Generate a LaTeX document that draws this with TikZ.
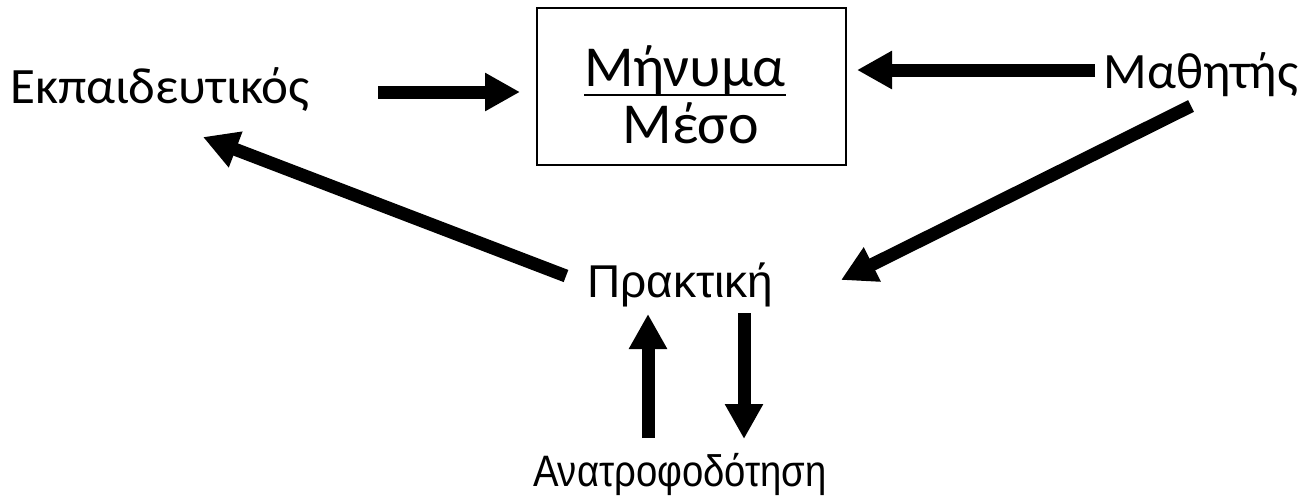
\documentclass[tikz,border=0pt]{standalone}
\usepackage{fontspec}
\setmainfont{Liberation Sans}
\newfontfamily\calib{Carlito}
\usetikzlibrary{arrows.meta}
\tikzset{
  bigarrow/.style={line width=13pt,-{Triangle[length=35pt,width=36pt]}},
  lbl/.style={inner sep=0pt,anchor=base}
}
\begin{document}
\begin{tikzpicture}[x=1pt,y=-1pt]
\useasboundingbox (0,0) rectangle (1305,499);
\node[lbl] (teacher) at (160,103) {\calib\fontsize{51}{54}\selectfont Εκπαιδευτικός};
\node[draw,line width=1.5pt,minimum width=309pt,minimum height=157pt,inner sep=0pt] (box) at (691.5,86.5) {};
\node[lbl] (msg) at (685,86) {\calib\fontsize{58}{60}\selectfont Μήνυμα};
\draw[line width=2.5pt] ([yshift=-9pt]msg.base west) -- ([yshift=-9pt]msg.base east);
\node[lbl] (medium) at (691,143) {\calib\fontsize{58}{60}\selectfont Μέσο};
\node[lbl] (student) at (1201,88) {\calib\fontsize{51}{54}\selectfont Μαθητής};
\node[lbl] (practice) at (680,297) {\fontsize{46}{50}\selectfont Πρακτική};
\node[lbl] (feedback) at (680,486) {\scalebox{0.87}[1]{\fontsize{44}{48}\selectfont Ανατροφοδότηση}};
\coordinate (a1s) at (378,92);
\coordinate (a1e) at (520,92);
\coordinate (a2s) at (1095,70);
\coordinate (a2e) at (857,70);
\coordinate (a3s) at (1191,106);
\coordinate (a3e) at (841,280);
\coordinate (a4s) at (566,276);
\coordinate (a4e) at (203,137);
\coordinate (a5s) at (648,438);
\coordinate (a5e) at (648,314);
\coordinate (a6s) at (744,313);
\coordinate (a6e) at (744,439);
\draw[bigarrow] (a1s) -- (a1e);
\draw[bigarrow] (a2s) -- (a2e);
\draw[bigarrow] (a3s) -- (a3e);
\draw[bigarrow] (a4s) -- (a4e);
\draw[bigarrow] (a5s) -- (a5e);
\draw[bigarrow] (a6s) -- (a6e);
\end{tikzpicture}
\end{document}
